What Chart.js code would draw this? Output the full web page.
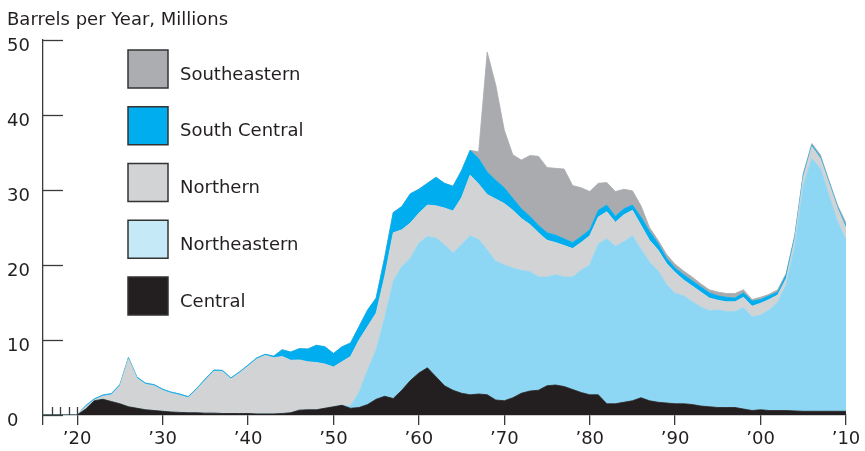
<!DOCTYPE html>
<html>
<head>
<meta charset="utf-8">
<title>Barrels per Year, Millions</title>
<script src="https://cdn.jsdelivr.net/npm/chart.js@4.4.0/dist/chart.umd.min.js"></script>
<style>
  html, body { margin: 0; padding: 0; background: #fff; }
  #wrap { width: 865px; height: 451px; }
</style>
</head>
<body>
<div id="wrap"><canvas id="oilChart" width="865" height="451"></canvas></div>
<script>
// Years on the x axis
const firstYear = 1916;
const lastYear = 2010;
const tickYears = [1916, 1920, 1930, 1940, 1950, 1960, 1970, 1980, 1990, 2000, 2010];
const minorTickYears = [1917, 1918, 1919, 1920];
const yTicks = [0, 10, 20, 30, 40, 50];

// Millions of barrels per year, one value per year 1916-2010
const central = [
    0, 0, 0, 0, 0, 0.8, 1.9, 2.1, 1.8, 1.5,
    1.1, 0.9, 0.7, 0.6, 0.5, 0.4, 0.35, 0.3, 0.3, 0.25,
    0.25, 0.2, 0.2, 0.2, 0.2, 0.15, 0.15, 0.15, 0.2, 0.3,
    0.65, 0.7, 0.7, 0.9, 1.1, 1.3, 0.9, 1.0, 1.4, 2.1,
    2.5, 2.2, 3.3, 4.6, 5.6, 6.3, 5.1, 3.9, 3.3, 2.9,
    2.7, 2.8, 2.7, 2.0, 1.9, 2.3, 2.9, 3.2, 3.3, 3.9,
    4.0, 3.8, 3.4, 3.0, 2.7, 2.7, 1.5, 1.5, 1.7, 1.9,
    2.3, 1.9, 1.7, 1.6, 1.5, 1.5, 1.4, 1.2, 1.1, 1.0,
    1.0, 1.0, 0.8, 0.6, 0.7, 0.6, 0.6, 0.6, 0.55, 0.5,
    0.5, 0.5, 0.5, 0.5, 0.5
];
const northeastern = [
    0, 0, 0, 0, 0, 0, 0, 0, 0, 0,
    0, 0, 0, 0, 0, 0, 0, 0, 0, 0,
    0, 0, 0, 0, 0, 0, 0, 0, 0, 0,
    0, 0, 0, 0, 0, 0, 0.3, 2.0, 4.6, 6.6,
    10.5, 15.6, 16.5, 16.3, 17.3, 17.5, 18.5, 18.8, 18.3, 19.8,
    21.2, 20.6, 19.3, 18.5, 18.1, 17.3, 16.4, 15.9, 15.1, 14.5,
    14.7, 14.6, 15.0, 16.3, 17.3, 20.1, 22.0, 21.0, 21.4, 22.0,
    19.8, 18.5, 17.5, 15.8, 14.7, 14.4, 13.7, 13.2, 12.8, 13.0,
    12.8, 12.8, 13.5, 12.5, 12.6, 13.4, 14.4, 16.8, 21.8, 30.0,
    33.7, 32.4, 28.8, 25.3, 22.9
];
const northern = [
    0, 0, 0, 0, 0, 0.3, 0.1, 0.4, 0.9, 2.4,
    6.4, 4.0, 3.4, 3.3, 2.8, 2.5, 2.3, 2.0, 3.1, 4.4,
    5.6, 5.6, 4.6, 5.4, 6.3, 7.3, 7.8, 7.5, 7.6, 7.0,
    6.7, 6.4, 6.3, 5.9, 5.3, 5.8, 6.6, 7.0, 5.8, 4.9,
    5.5, 6.5, 4.9, 4.7, 4.0, 4.2, 4.3, 4.9, 5.6, 6.3,
    8.1, 7.4, 7.4, 8.3, 8.2, 7.7, 6.9, 6.3, 5.9, 4.9,
    4.3, 4.2, 3.8, 3.7, 3.9, 3.6, 3.6, 3.2, 3.6, 3.4,
    3.2, 2.9, 2.8, 2.8, 2.8, 2.1, 2.1, 2.0, 1.7, 1.3,
    1.3, 1.3, 1.4, 1.4, 1.6, 1.4, 1.0, 0.8, 1.1, 1.2,
    1.6, 1.3, 1.6, 1.8, 1.5
];
const southCentral = [
    0, 0, 0, 0, 0, 0.15, 0.15, 0.15, 0.15, 0.15,
    0.15, 0.15, 0.15, 0.15, 0.15, 0.15, 0.15, 0.15, 0.15, 0.15,
    0.15, 0.15, 0.15, 0.15, 0.15, 0.15, 0.15, 0.2, 0.9, 1.1,
    1.5, 1.7, 2.3, 2.3, 1.8, 2.0, 1.8, 1.8, 2.2, 2.0,
    2.5, 2.7, 3.1, 3.9, 3.2, 2.9, 3.8, 3.3, 3.3, 3.6,
    3.3, 3.4, 3.0, 2.5, 2.1, 1.6, 1.3, 1.1, 1.0, 1.0,
    1.0, 0.9, 0.8, 0.8, 0.8, 0.9, 0.9, 0.8, 0.8, 0.7,
    1.1, 1.2, 0.9, 0.7, 0.6, 0.7, 0.7, 0.7, 0.7, 0.6,
    0.6, 0.5, 0.6, 0.7, 0.5, 0.5, 0.4, 0.5, 0.3, 0.3,
    0.2, 0.2, 0.2, 0.2, 0.3
];
const southeastern = [
    0, 0, 0, 0, 0, 0, 0, 0, 0, 0,
    0, 0, 0, 0, 0, 0, 0, 0, 0, 0,
    0, 0, 0, 0, 0, 0, 0, 0, 0, 0,
    0, 0, 0, 0, 0, 0, 0, 0, 0, 0,
    0, 0, 0, 0, 0, 0, 0, 0, 0, 0,
    0, 0.9, 16.0, 12.7, 7.7, 5.8, 6.5, 8.1, 9.2, 8.7,
    8.9, 9.3, 7.6, 6.5, 5.1, 3.6, 3.0, 3.3, 2.6, 1.9,
    1.5, 0.5, 0.4, 0.5, 0.5, 0.5, 0.5, 0.4, 0.4, 0.5,
    0.5, 0.6, 0.4, 0.2, 0.3, 0.2, 0.3, 0.2, 0.2, 0.2,
    0.2, 0.3, 0.2, 0.2, 0.4
];

const years = [];
for (let yr = firstYear; yr <= lastYear; yr++) years.push(yr);

const inkColor = '#231f20';
const axisColor = '#3a3a3a';

// bottom of the stack first
const regions = [
    {label: 'Central', data: central, color: '#231f20', swatch: '#231f20'},
    {label: 'Northeastern', data: northeastern, color: '#8dd7f5', swatch: '#c6e9f8'},
    {label: 'Northern', data: northern, color: '#d1d3d4', swatch: '#d1d3d4'},
    {label: 'South Central', data: southCentral, color: '#00aeef', swatch: '#00aeef'},
    {label: 'Southeastern', data: southeastern, color: '#a9abae', swatch: '#acadb0'}
];

Chart.defaults.font.family = "'DejaVu Sans', sans-serif";
Chart.defaults.color = inkColor;

// inner y ticks, the little year marks and the boxed legend
const extrasPlugin = {
    id: 'extras',
    afterDraw(chart) {
        const {ctx, chartArea, scales} = chart;
        const x = scales.x;
        const y = scales.y;
        ctx.save();
        ctx.strokeStyle = axisColor;
        ctx.lineWidth = 1.3;

        yTicks.forEach(v => {
            const py = Math.round(y.getPixelForValue(v)) + 0.5;
            ctx.beginPath();
            ctx.moveTo(chartArea.left, py);
            ctx.lineTo(chartArea.left + 20, py);
            ctx.stroke();
        });

        minorTickYears.forEach(yr => {
            const px = Math.round(x.getPixelForValue(yr)) + 0.5;
            ctx.beginPath();
            ctx.moveTo(px, chartArea.bottom);
            ctx.lineTo(px, chartArea.bottom - 8);
            ctx.stroke();
        });

        // legend, top entry is the top of the stack
        const boxLeft = 128, boxTop = 50, boxW = 40, boxH = 38, step = 56.75;
        ctx.font = "18px 'DejaVu Sans', sans-serif";
        ctx.textBaseline = 'middle';
        ctx.fillStyle = inkColor;
        regions.slice().reverse().forEach((r, i) => {
            const top = boxTop + i * step;
            ctx.fillStyle = r.swatch;
            ctx.fillRect(boxLeft, top, boxW, boxH);
            ctx.lineWidth = 1.5;
            ctx.strokeStyle = '#333';
            ctx.strokeRect(boxLeft, top, boxW, boxH);
            ctx.fillStyle = inkColor;
            ctx.fillText(r.label, 180, top + boxH / 2 + 6);
        });
        ctx.restore();
    }
};

new Chart(document.getElementById('oilChart'), {
    type: 'line',
    data: {
        datasets: regions.map((r, i) => ({
            label: r.label,
            data: years.map((yr, k) => ({x: yr, y: r.data[k]})),
            backgroundColor: r.color,
            borderColor: r.color,
            borderWidth: 0.8,
            fill: i === 0 ? 'origin' : '-1',
            pointRadius: 0,
            pointHoverRadius: 0,
            tension: 0
        }))
    },
    options: {
        responsive: false,
        animation: false,
        layout: {padding: {left: 7, right: 19, top: 0, bottom: 0}},
        plugins: {
            legend: {display: false},
            tooltip: {enabled: false},
            title: {
                display: true,
                text: 'Barrels per Year, Millions',
                align: 'start',
                color: inkColor,
                font: {size: 18, weight: 'normal'},
                padding: {top: 9.5, bottom: 9}
            }
        },
        scales: {
            x: {
                type: 'linear',
                min: firstYear,
                max: lastYear,
                afterBuildTicks: scale => {
                    scale.ticks = tickYears.map(v => ({value: v}));
                },
                afterFit: scale => {
                    scale.height = 36;
                },
                ticks: {
                    autoSkip: false,
                    maxRotation: 0,
                    padding: 4,
                    color: inkColor,
                    font: {size: 18},
                    callback: v => v % 10 === 0 ? '\u2019' + String(v).slice(2) : ''
                },
                grid: {
                    drawOnChartArea: false,
                    drawTicks: true,
                    tickLength: 10,
                    color: axisColor,
                    lineWidth: 1.3
                },
                border: {display: true, color: axisColor, width: 1.3}
            },
            y: {
                stacked: true,
                min: 0,
                max: 50,
                afterFit: scale => {
                    scale.width = 36;
                },
                ticks: {
                    stepSize: 10,
                    crossAlign: 'far',
                    labelOffset: 6,
                    color: inkColor,
                    font: {size: 18}
                },
                grid: {drawOnChartArea: false, drawTicks: false},
                border: {display: true, color: axisColor, width: 1.3}
            }
        }
    },
    plugins: [extrasPlugin]
});
</script>
</body>
</html>
